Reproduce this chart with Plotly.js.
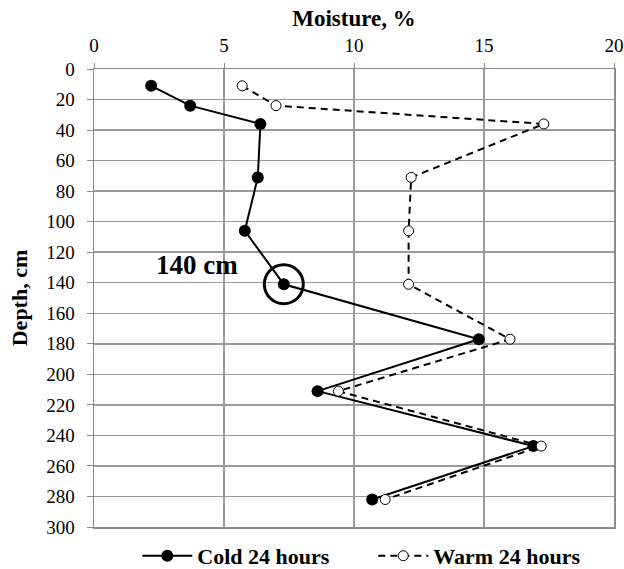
<!DOCTYPE html>
<html>
<head>
<meta charset="utf-8">
<script src="https://cdn.plot.ly/plotly-3.0.1.min.js"></script>
<style>
  html, body { margin: 0; padding: 0; background: #fff; }
  #chart { width: 624px; height: 569px; }
</style>
</head>
<body>
<div id="chart"></div>
<script>
// Soil moisture profile: depth (cm) against moisture (%)
const coldDepth = [11, 24, 36, 71, 106, 141, 177, 211, 247, 282];
const coldMoisture = [2.2, 3.7, 6.4, 6.3, 5.8, 7.3, 14.8, 8.6, 16.9, 10.7];

const warmDepth = [11, 24, 36, 71, 106, 141, 177, 211, 247, 282];
const warmMoisture = [5.7, 7.0, 17.3, 12.2, 12.1, 12.1, 16.0, 9.4, 17.2, 11.2];

// Highlighted sample
const markDepth = [141];
const markMoisture = [7.3];
const markLabel = '140 cm';

const xTicks = [0, 5, 10, 15, 20];
const yTicks = [0, 20, 40, 60, 80, 100, 120, 140, 160, 180, 200, 220, 240, 260, 280, 300];

const serif = "'Liberation Serif', 'Times New Roman', Times, serif";

const traces = [
  {
    name: '<b>Cold 24 hours</b>',
    x: coldMoisture, y: coldDepth,
    mode: 'lines+markers',
    line: { color: '#000', width: 2 },
    marker: { symbol: 'circle', size: 12, color: '#000' }
  },
  {
    name: '<b>Warm 24 hours</b>',
    x: warmMoisture, y: warmDepth,
    mode: 'lines+markers',
    line: { color: '#000', width: 2, dash: '7px,5px' },
    marker: { symbol: 'circle', size: 10, color: '#fff', line: { color: '#000', width: 1 } }
  },
  {
    name: markLabel,
    x: markMoisture, y: markDepth,
    mode: 'markers',
    showlegend: false,
    hoverinfo: 'skip',
    marker: { symbol: 'circle-open', size: 39, color: '#000', line: { color: '#000', width: 3 } }
  }
];

const layout = {
  width: 624, height: 569,
  margin: { l: 94, r: 10, t: 69, b: 42, autoexpand: false },
  paper_bgcolor: '#fff', plot_bgcolor: '#fff',
  font: { family: serif, color: '#000', size: 19 },
  showlegend: true,
  xaxis: {
    side: 'top',
    range: [0, 20],
    tickvals: xTicks,
    ticks: 'outside', ticklen: 5, tickcolor: '#8c8c8c',
    ticklabelstandoff: 3,
    showline: true, linecolor: '#8c8c8c', linewidth: 1.5, mirror: true,
    showgrid: true, gridcolor: '#9a9a9a', gridwidth: 1.5,
    zeroline: false,
    tickfont: { family: serif, size: 19, color: '#000' },
    title: { text: '<b>Moisture, %</b>', font: { family: serif, size: 23 }, standoff: 2 }
  },
  yaxis: {
    range: [300, 0],
    tickvals: yTicks,
    ticks: 'outside', ticklen: 6, tickcolor: '#8c8c8c',
    ticklabelstandoff: 8,
    showline: true, linecolor: '#8c8c8c', linewidth: 1.5, mirror: true,
    showgrid: true, gridcolor: '#9a9a9a', gridwidth: 1.5,
    zeroline: false,
    tickfont: { family: serif, size: 19, color: '#000' },
    title: { text: '<b>Depth, cm</b>', font: { family: serif, size: 22 }, standoff: 12 }
  },
  legend: {
    orientation: 'h',
    x: 0.22, xanchor: 'left', xref: 'container',
    y: 0.023, yanchor: 'middle', yref: 'container',
    bgcolor: 'rgba(0,0,0,0)',
    font: { family: serif, size: 22, color: '#000' },
    itemwidth: 50,
    entrywidth: 171, entrywidthmode: 'pixels',
    traceorder: 'normal'
  },
  annotations: [
    {
      x: 3.95, y: 128.7, xref: 'x', yref: 'y',
      text: '<b>' + markLabel + '</b>',
      showarrow: false,
      font: { family: serif, size: 27, color: '#000' }
    }
  ]
};

Plotly.newPlot('chart', traces, layout, { displayModeBar: false, staticPlot: true });
</script>
</body>
</html>
